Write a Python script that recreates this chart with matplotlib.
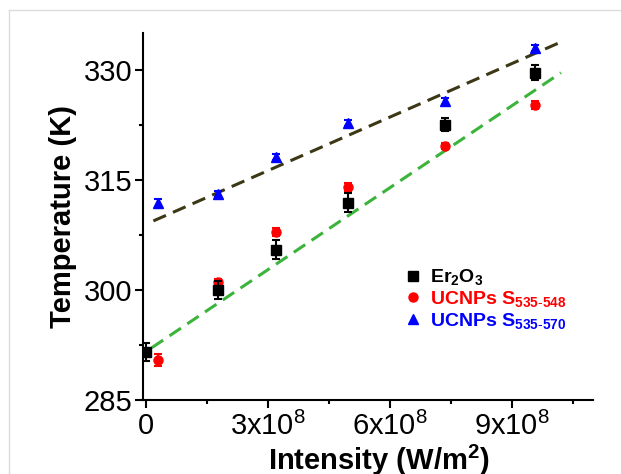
import numpy as np
import matplotlib
matplotlib.use("Agg")
import matplotlib.pyplot as plt
from matplotlib.lines import Line2D

plt.rcParams["font.family"] = ["Liberation Sans", "DejaVu Sans"]
plt.rcParams["mathtext.fontset"] = "custom"
plt.rcParams["mathtext.rm"] = "Liberation Sans"
plt.rcParams["mathtext.bf"] = "Liberation Sans:bold"
plt.rcParams["mathtext.it"] = "Liberation Sans:italic"

# data
intensity = [0.0, 1.78e8, 3.19e8, 4.97e8, 7.35e8, 9.58e8]
intensity_shift = [0.30e8, 1.78e8, 3.19e8, 4.97e8, 7.35e8, 9.58e8]
er2o3 = [291.5, 300.0, 305.5, 311.9, 322.5, 329.6]
er2o3_err = [1.2, 1.2, 1.35, 1.35, 0.9, 1.0]
s548 = [290.5, 301.1, 307.9, 314.0, 319.6, 325.2]
s548_err = [0.8, 0.4, 0.5, 0.5, 0.4, 0.5]
s570 = [311.8, 313.1, 318.1, 322.7, 325.7, 332.9]
s570_err = [0.6, 0.4, 0.4, 0.4, 0.5, 0.4]

# linear fits (intercept, slope, x start, x end)
fit_dark = (308.96, 2.43e-8, 0.18e8, 10.29e8)
fit_green = (291.6, 3.72e-8, 0.14e8, 10.21e8)

labels = [r"Er$_\mathbf{2}$O$_\mathbf{3}$",
          r"UCNPs S$_{\mathbf{535}\text{-}\mathbf{548}}$",
          r"UCNPs S$_{\mathbf{535}\text{-}\mathbf{570}}$"]
colors = ["black", "#ff0000", "#0000ff"]
markers = ["s", "o", "^"]

xticks = [0, 3e8, 6e8, 9e8]
xticklabels = ["0", r"3x10$^{8}$", r"6x10$^{8}$", r"9x10$^{8}$"]
yticks = [285, 300, 315, 330]

fig = plt.figure(figsize=(6.21, 4.74), dpi=100)
ax = fig.add_axes([0.2303, 0.1561, 0.955 - 0.2303, 0.9304 - 0.1561])

for fit, col in [(fit_dark, "#3c3816"), (fit_green, "#3cb43c")]:
    b, m, x0, x1 = fit
    xs = np.array([x0, x1])
    ax.plot(xs, b + m * xs, color=col, lw=2.2, dashes=(4.5, 2.5), zorder=2)

ax.errorbar(intensity, er2o3, yerr=er2o3_err, fmt=markers[0], color=colors[0], ms=6.5,
            capsize=3, elinewidth=1.5, capthick=1.5, zorder=4)
ax.errorbar(intensity_shift, s548, yerr=s548_err, fmt=markers[1], color=colors[1], ms=6.5,
            capsize=3, elinewidth=1.5, capthick=1.5, zorder=3)
ax.errorbar(intensity_shift, s570, yerr=s570_err, fmt=markers[2], color=colors[2], ms=7,
            capsize=3, elinewidth=1.5, capthick=1.5, zorder=3)

ax.set_xlim(-0.075e8, 11e8)
ax.set_ylim(285, 335)
ax.set_xticks(xticks)
ax.set_xticklabels(xticklabels)
ax.set_xticks([1.5e8, 4.5e8, 7.5e8, 10.5e8], minor=True)
ax.set_yticks(yticks)
ax.set_yticks([292.5, 307.5, 322.5], minor=True)

ax.spines["top"].set_visible(False)
ax.spines["right"].set_visible(False)
for s in ["left", "bottom"]:
    ax.spines[s].set_linewidth(1.5)
ax.tick_params(which="major", direction="out", length=5.5, width=1.5, labelsize=21)
ax.tick_params(axis="y", which="major", pad=2)
ax.tick_params(axis="x", which="major", pad=3)
ax.tick_params(which="minor", direction="out", length=3, width=1.5)

ax.set_xlabel(r"Intensity (W/m$^\mathbf{2}$)", fontsize=21, fontweight="bold", labelpad=1)
ax.xaxis.label.set_x(0.524)
ax.set_ylabel("Temperature (K)", fontsize=21, fontweight="bold", labelpad=5)

handles = [Line2D([], [], ls="none", marker=mk, color=c, ms=6.5) for mk, c in zip(markers, colors)]
leg = ax.legend(handles, labels, loc="center left", bbox_to_anchor=(0.556, 0.275), frameon=False,
                borderpad=0, handletextpad=0.4, handlelength=1.0, labelspacing=0.09,
                prop={"weight": "bold", "size": 14})
for txt, col in zip(leg.get_texts(), colors):
    txt.set_color(col)

# light frame of the original screenshot
fig.add_artist(Line2D([9 / 621, 9 / 621], [0, 1 - 10 / 474], color="#dcdcdc", lw=1))
fig.add_artist(Line2D([9 / 621, 1], [1 - 10 / 474, 1 - 10 / 474], color="#dcdcdc", lw=1))

fig.savefig("out.png", dpi=100)
